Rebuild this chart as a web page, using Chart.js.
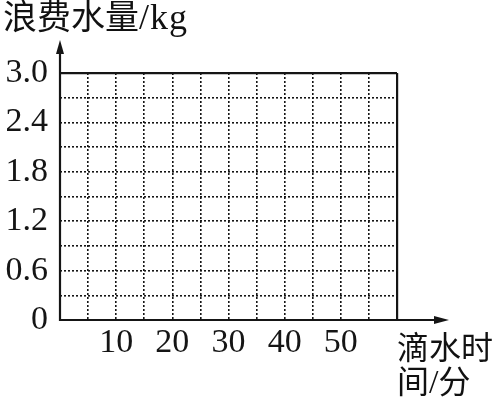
<!DOCTYPE html>
<html>
<head>
<meta charset="utf-8">
<script src="https://cdn.jsdelivr.net/npm/chart.js@4/dist/chart.umd.min.js"></script>
<style>
  html, body { margin: 0; padding: 0; background: #fff; }
  #wrap { position: relative; width: 501px; height: 404px; overflow: hidden; }
  canvas { position: absolute; left: 0; top: 0; }
  .ttl { position: absolute; color: #111; white-space: nowrap; line-height: 1; }
  .cjk { font-family: "Noto Sans CJK SC", sans-serif; font-weight: 400; }
  .ser { font-family: "Liberation Serif", "DejaVu Serif", serif; }
</style>
</head>
<body>
<div id="wrap">
  <canvas id="c" width="501" height="404"></canvas>
  <div class="ttl" id="yTitle" style="left:3px; top:-2px; font-size:34px;"><span class="cjk">浪费水量</span><span class="ser" style="font-size:36px; letter-spacing:1px;">/kg</span></div>
  <div class="ttl cjk" id="xTitle1" style="left:397px; top:329px; font-size:32px;">滴水时</div>
  <div class="ttl cjk" id="xTitle2" style="left:397px; top:363px; font-size:32px;"><span>间</span><span class="ser" style="font-size:34px;">/</span><span>分</span></div>
</div>
<script>
// ---- data ----
const xMin = 0, xMax = 60, xStep = 5;           // minutes, grid every 5
const yMin = 0, yMax = 3.0, yStep = 0.3;        // kg, grid every 0.3
const xLabeledTicks = [10, 20, 30, 40, 50];
const xTickText = ['10', '20', '30', '40', '50'];
const yLabeledTicks = [0, 0.6, 1.2, 1.8, 2.4, 3.0];
const yTickText = ['0', '0.6', '1.2', '1.8', '2.4', '3.0'];
const seriesX = [];   // no plotted points in the reference (blank grid)
const seriesY = [];

const ink = '#151515';

function labelFor(v, vals, texts) {
  for (let i = 0; i < vals.length; i++) if (Math.abs(v - vals[i]) < 1e-6) return texts[i];
  return '';
}

const axesPlugin = {
  id: 'axesArrows',
  afterDraw(chart) {
    const { ctx, chartArea: a } = chart;
    ctx.save();
    ctx.strokeStyle = ink;
    ctx.fillStyle = ink;
    ctx.lineWidth = 2.2;
    ctx.setLineDash([]);
    // y axis
    const yTip = a.top - 33;
    ctx.beginPath();
    ctx.moveTo(a.left, a.bottom + 1);
    ctx.lineTo(a.left, yTip + 8);
    ctx.stroke();
    ctx.beginPath();
    ctx.moveTo(a.left, yTip);
    ctx.lineTo(a.left - 4, yTip + 14);
    ctx.lineTo(a.left + 4, yTip + 14);
    ctx.closePath();
    ctx.fill();
    // x axis
    const xTip = a.right + 52;
    ctx.beginPath();
    ctx.moveTo(a.left - 1, a.bottom);
    ctx.lineTo(xTip - 8, a.bottom);
    ctx.stroke();
    ctx.beginPath();
    ctx.moveTo(xTip, a.bottom);
    ctx.lineTo(xTip - 15, a.bottom - 4);
    ctx.lineTo(xTip - 15, a.bottom + 4);
    ctx.closePath();
    ctx.fill();
    ctx.restore();
  }
};

const tickFont = { family: '"Liberation Serif", "DejaVu Serif", serif', size: 34 };

new Chart(document.getElementById('c'), {
  type: 'scatter',
  data: {
    datasets: [{
      data: seriesX.map((x, i) => ({ x: x, y: seriesY[i] })),
      showLine: true,
      borderColor: ink,
      backgroundColor: ink
    }]
  },
  options: {
    responsive: false,
    animation: false,
    events: [],
    layout: { padding: { top: 73, right: 104, left: 0, bottom: 0 } },
    plugins: { legend: { display: false }, tooltip: { enabled: false }, title: { display: false } },
    scales: {
      x: {
        type: 'linear', min: xMin, max: xMax,
        afterFit(s) { s.height = 84; },
        ticks: {
          stepSize: xStep, autoSkip: false, maxRotation: 0, padding: 3,
          color: ink, font: tickFont,
          callback: (v) => labelFor(v, xLabeledTicks, xTickText)
        },
        grid: {
          drawTicks: false,
          color: ink,
          lineWidth: (c) => (c.index === 12 ? 2.2 : 1.6)
        },
        border: { display: false, dash: (c) => (c.index === 12 ? [] : [2, 2]) }
      },
      y: {
        type: 'linear', min: yMin, max: yMax,
        afterFit(s) { s.width = 60; },
        ticks: {
          stepSize: yStep, autoSkip: false, padding: 12,
          color: ink, font: tickFont,
          callback: (v) => labelFor(v, yLabeledTicks, yTickText)
        },
        grid: {
          drawTicks: false,
          color: ink,
          lineWidth: (c) => (c.index === 10 ? 2.2 : 1.6)
        },
        border: { display: false, dash: (c) => (c.index === 10 ? [] : [2, 2]) }
      }
    }
  },
  plugins: [axesPlugin]
});
</script>
</body>
</html>
